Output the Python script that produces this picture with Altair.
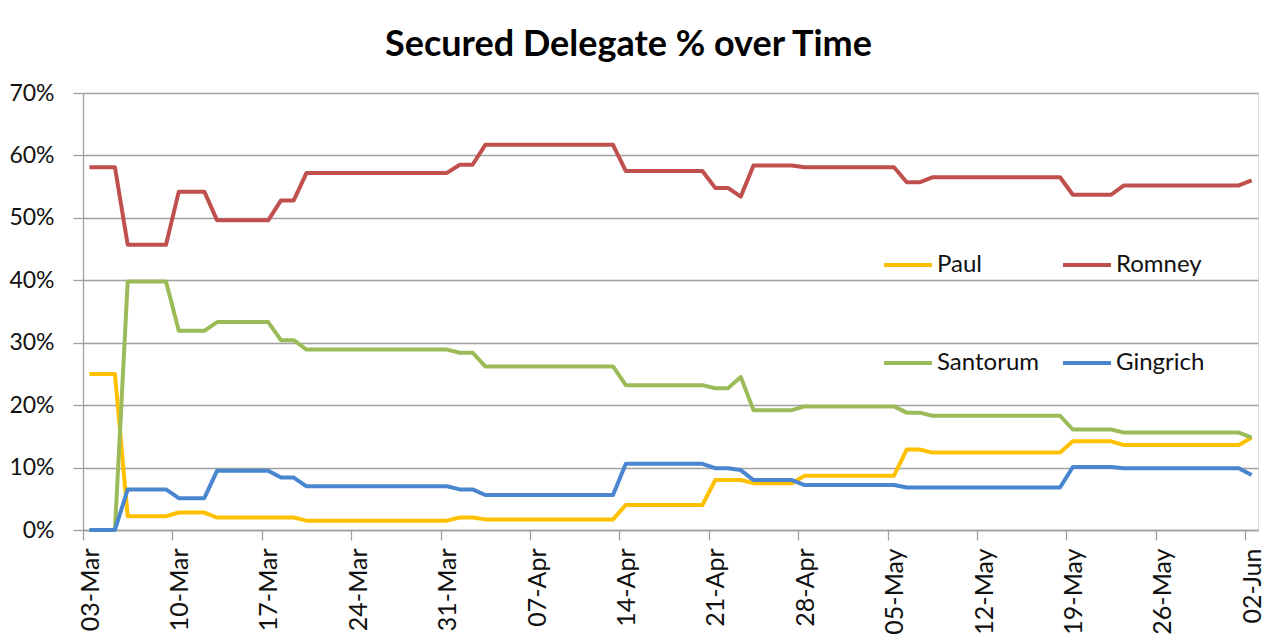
import altair as alt
import pandas as pd

# Dates where any series changes (vertices of the lines)
DAYS = ["2012-03-03", "2012-03-05", "2012-03-06", "2012-03-09", "2012-03-10",
        "2012-03-12", "2012-03-13", "2012-03-17", "2012-03-18", "2012-03-19",
        "2012-03-20", "2012-03-31", "2012-04-01", "2012-04-02", "2012-04-03",
        "2012-04-13", "2012-04-14", "2012-04-20", "2012-04-21", "2012-04-22",
        "2012-04-23", "2012-04-24", "2012-04-27", "2012-04-28", "2012-05-05",
        "2012-05-06", "2012-05-07", "2012-05-08", "2012-05-18", "2012-05-19",
        "2012-05-22", "2012-05-23", "2012-06-01", "2012-06-02"]

PAUL = [25.0, 25.0, 2.2, 2.2, 2.8, 2.8, 2.0, 2.0, 2.0, 2.0, 1.5, 1.5, 2.0, 2.0,
        1.7, 1.7, 4.0, 4.0, 8.0, 8.0, 8.0, 7.5, 7.5, 8.7, 8.7, 12.9, 12.9, 12.4,
        12.4, 14.2, 14.2, 13.6, 13.6, 14.8]
ROMNEY = [58.1, 58.1, 45.7, 45.7, 54.2, 54.2, 49.6, 49.6, 52.8, 52.8, 57.2, 57.2,
          58.5, 58.5, 61.7, 61.7, 57.5, 57.5, 54.8, 54.8, 53.4, 58.4, 58.4, 58.1,
          58.1, 55.7, 55.7, 56.5, 56.5, 53.7, 53.7, 55.2, 55.2, 56.0]
SANTORUM = [0.0, 0.0, 39.8, 39.8, 31.9, 31.9, 33.3, 33.3, 30.4, 30.4, 28.9, 28.9,
            28.4, 28.4, 26.2, 26.2, 23.2, 23.2, 22.7, 22.7, 24.5, 19.2, 19.2, 19.8,
            19.8, 18.8, 18.8, 18.3, 18.3, 16.1, 16.1, 15.6, 15.6, 14.8]
GINGRICH = [0.0, 0.0, 6.5, 6.5, 5.1, 5.1, 9.5, 9.5, 8.4, 8.4, 7.0, 7.0, 6.5, 6.5,
            5.6, 5.6, 10.6, 10.6, 9.9, 9.9, 9.6, 8.0, 8.0, 7.2, 7.2, 6.8, 6.8, 6.8,
            6.8, 10.1, 10.1, 9.9, 9.9, 8.8]

SERIES = ["Paul", "Romney", "Santorum", "Gingrich"]
# legend fills column by column: Paul/Santorum in the first column
LEGEND_ORDER = ["Paul", "Santorum", "Romney", "Gingrich"]
COLOR_OF = {"Paul": "#FFC000", "Romney": "#C0504D",
            "Santorum": "#9BBB59", "Gingrich": "#4A86D0"}

X_TICKS = ["2012-03-03", "2012-03-10", "2012-03-17", "2012-03-24", "2012-03-31",
           "2012-04-07", "2012-04-14", "2012-04-21", "2012-04-28", "2012-05-05",
           "2012-05-12", "2012-05-19", "2012-05-26", "2012-06-02"]
X_DOMAIN = ["2012-03-03", "2012-06-03"]
Y_TICKS = [0, 0.1, 0.2, 0.3, 0.4, 0.5, 0.6, 0.7]

def dt(s):
    y, m, d = (int(p) for p in s.split("-"))
    return alt.DateTime(year=y, month=m, date=d, hours=0, utc=True)

rows = []
for name, vals in zip(SERIES, [PAUL, ROMNEY, SANTORUM, GINGRICH]):
    for i, (d, v) in enumerate(zip(DAYS, vals)):
        rows.append({"date": d + "T12:00:00Z", "value": v / 100.0,
                     "candidate": name, "order": i})
df = pd.DataFrame(rows)

GRID = "#A0A0A0"
FONT = "Lato"

chart = alt.Chart(df).mark_line(strokeWidth=4, strokeJoin="round").encode(
    x=alt.X("date:T",
            scale=alt.Scale(type="utc", domain=[dt(s) for s in X_DOMAIN]),
            axis=alt.Axis(values=[dt(s) for s in X_TICKS], format="%d-%b",
                          labelAngle=270, labelAlign="right", labelBaseline="middle",
                          labelOffset=7, labelPadding=8, tickSize=10,
                          tickColor=GRID, tickWidth=1.3, domainColor=GRID,
                          domainWidth=1.3, grid=False, labelFont=FONT,
                          labelFontSize=25, labelColor="#111", title=None,
                          labelOverlap=False)),
    y=alt.Y("value:Q",
            scale=alt.Scale(domain=[0, 0.7], nice=False),
            axis=alt.Axis(values=Y_TICKS, format=".0%", tickSize=10,
                          tickColor=GRID, tickWidth=1.3, domainColor=GRID,
                          domainWidth=1.3, gridColor=GRID, gridWidth=1.3,
                          labelFont=FONT, labelFontSize=23, labelColor="#111",
                          labelPadding=19, title=None)),
    color=alt.Color("candidate:N",
                    scale=alt.Scale(domain=LEGEND_ORDER,
                                    range=[COLOR_OF[c] for c in LEGEND_ORDER]),
                    legend=alt.Legend(orient="none", legendX=799, legendY=146,
                                      columns=2, symbolType="stroke",
                                      symbolSize=2304, symbolStrokeWidth=4,
                                      labelFont=FONT, labelFontSize=24,
                                      labelColor="#111", labelOffset=3,
                                      rowPadding=60, columnPadding=15,
                                      title=None, padding=0)),
    order=alt.Order("order:Q"),
).properties(
    width=1175,
    height=437,
    title=alt.TitleParams("Secured Delegate % over Time", font=FONT, fontSize=36,
                          fontWeight="bold", color="#000", anchor="middle",
                          dx=-42, dy=28, offset=10, baseline="bottom"),
    autosize=alt.AutoSizeParams(type="none"),
    padding={"left": 75, "top": 85, "right": 10, "bottom": 110},
).configure_view(stroke=None).configure(background="white")

chart.save("out.html", embed_options={"renderer": "svg", "actions": False})
